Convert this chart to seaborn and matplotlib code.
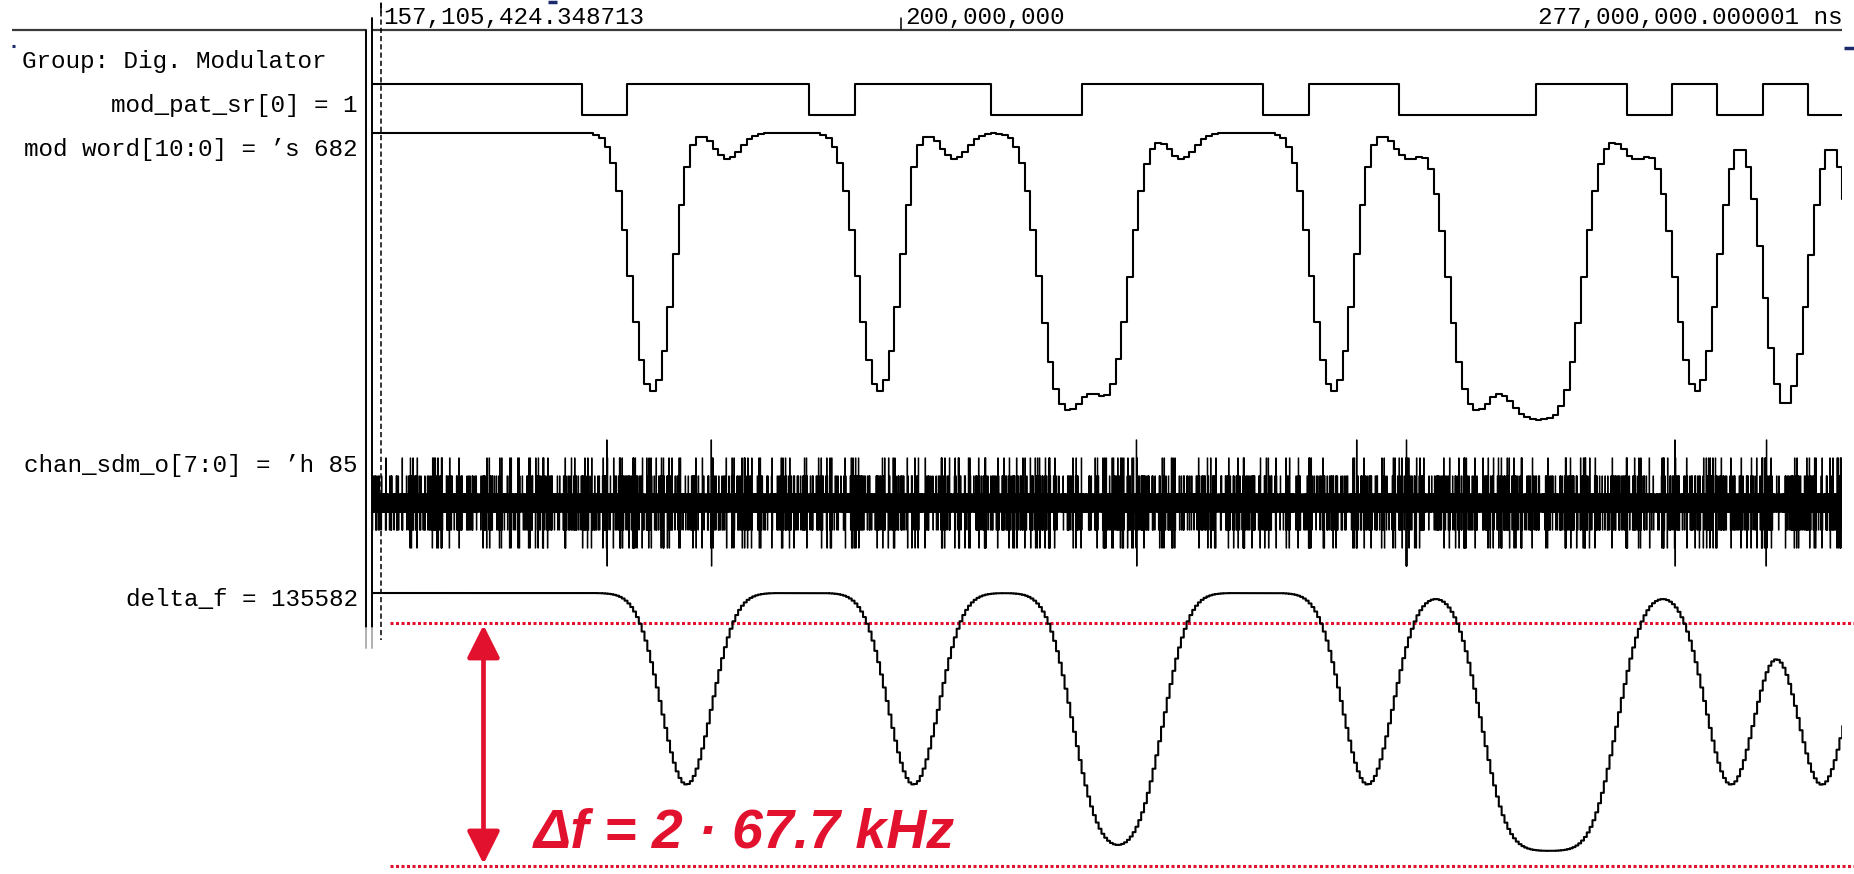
import math
import numpy as np
import matplotlib
matplotlib.use("Agg")
import matplotlib.pyplot as plt
import seaborn as sns
from matplotlib.patches import FancyArrowPatch
from matplotlib.transforms import offset_copy

W, H = 1854, 874

#------ values
# ruler / time window (ns)
view_start_ns = 156.363e6
view_end_ns = 277.62e6
cursor_ns = 157105424.348713
ruler_tick_ns = 200e6
ruler_text = ["157,105,424.348713", "200,000,000", "277,000,000.000001 ns"]

# bit pattern shown in mod_pat_sr[0]
bit_start_ns = 154.96e6
bit_period_ns = 3.746e6
mod_pat_bits = [1, 1, 1, 1, 1, 0, 1, 1, 1, 1, 0, 1, 1, 1, 0, 0, 1, 1, 1, 1,
                0, 1, 1, 0, 0, 0, 1, 1, 0, 1, 0, 1, 0, 0]

group_name = "Group: Dig. Modulator"
signal_names = ["mod_pat_sr[0] = 1", "mod word[10:0] = \u2019s 682",
                "chan_sdm_o[7:0] = \u2019h 85", "delta_f = 135582"]
mod_word_full = 682
delta_f_top = 135582
chan_word = 133
dev_label = "\u0394f = 2 \u00b7 67.7 kHz"

#------ modulator model (gaussian + pre-emphasis ring, PLL output)
mod_sigma = 0.30      # bits
ring_depth = 0.09
ring_pos = 1.15       # bits after the edge
ring_width = 0.28
mod_delay = 1.0       # bits
df_bt = 0.3
df_delay = 1.77       # bits
mod_hold = 1 / 8      # mod word update period, bits
df_hold = 1 / 16
sdm_period_ns = 27e3  # sigma-delta clock, well below one screen pixel
sdm_frac = 0.4637
sdm_gain = 0.02

erf = np.vectorize(math.erf)


def phi(x, s):
    return 0.5 * (1 + erf(x / (s * math.sqrt(2))))


def to_bits(t):
    return (t - bit_start_ns) / bit_period_ns


def edge_sum(u, step):
    b = 2 * np.array(mod_pat_bits) - 1
    out = np.full(len(u), float(b[0]))
    for k in range(1, len(b)):
        if b[k] != b[k - 1]:
            out += (b[k] - b[k - 1]) * step(u - k)
    return out


def mod_step(x):
    x = x - mod_delay
    return phi(x, mod_sigma) - ring_depth * np.exp(-(x - ring_pos) ** 2 / (2 * ring_width ** 2))


df_sigma = math.sqrt(math.log(2)) / (2 * math.pi * df_bt)


def df_step(x):
    return phi(x - df_delay, df_sigma)


def mash111(x):
    a1 = a2 = a3 = 0.0
    c2p = 0
    c3p = c3pp = 0
    out = []
    for v in x:
        a1 += v; c1 = int(a1 >= 1); a1 -= c1
        a2 += a1; c2 = int(a2 >= 1); a2 -= c2
        a3 += a2; c3 = int(a3 >= 1); a3 -= c3
        out.append(c1 + c2 - c2p + c3 - 2 * c3p + c3pp)
        c2p = c2
        c3pp = c3p
        c3p = c3
    return np.array(out)


# mod_pat_sr
t_pat = bit_start_ns + np.arange(len(mod_pat_bits) + 1) * bit_period_ns
y_pat = mod_pat_bits + [mod_pat_bits[-1]]

# mod word (held every 1/8 bit)
u_m = np.arange(to_bits(view_start_ns) - 0.5, to_bits(view_end_ns) + 0.5, mod_hold)
t_m = bit_start_ns + u_m * bit_period_ns
mod_word = np.round(mod_word_full * edge_sum(u_m, mod_step))

# delta_f
u_d = np.arange(to_bits(view_start_ns) - 0.5, to_bits(view_end_ns) + 0.5, df_hold)
t_d = bit_start_ns + u_d * bit_period_ns
delta_f = np.round(delta_f_top / 2 * (1 + edge_sum(u_d, df_step)))

# chan_sdm_o
t_s = np.arange(view_start_ns - 500 * sdm_period_ns, view_end_ns + sdm_period_ns, sdm_period_ns)
sdm_in = sdm_frac + sdm_gain * edge_sum(to_bits(t_s), mod_step)
chan = chan_word + mash111(sdm_in)
keep = t_s >= view_start_ns - sdm_period_ns
t_s, chan = t_s[keep], chan[keep]

#------ figure
sns.set_theme(style="white")
plt.rcParams['font.family'] = ['Liberation Mono', 'DejaVu Sans']

fig = plt.figure(figsize=(W / 100, H / 100), dpi=100)
fig.patch.set_facecolor('white')


def px_axes(x0, y0, x1, y1):
    ax = fig.add_axes([x0 / W, 1 - y1 / H, (x1 - x0) / W, (y1 - y0) / H])
    ax.set_axis_off()
    ax.patch.set_alpha(0)
    return ax


def fit_ylim(ax, y0, y1, va, pa, vb, pb):
    s = (vb - va) / (pb - pa)
    ax.set_ylim(va + (y1 - pa) * s, va + (y0 - pa) * s)


lw_sig = 1.5
red = '#E2122F'
navy = '#1c2a6b'

# chrome overlay in pixel units
ax_c = px_axes(0, 0, W, H)
ax_c.set_xlim(0, W)
ax_c.set_ylim(H, 0)
grey = '#3a3a3a'
ax_c.plot([12, 366], [29.5, 29.5], color=grey, lw=1.6, solid_capstyle='butt')
ax_c.plot([372, 1842], [29.5, 29.5], color=grey, lw=1.6, solid_capstyle='butt')
ax_c.plot([366, 366], [29.5, 628], color='black', lw=1.4)
ax_c.plot([372.5, 372.5], [18, 628], color='black', lw=1.4)
ax_c.plot([366, 366], [628, 648], color='#b0b0b0', lw=1.4)
ax_c.plot([372.5, 372.5], [628, 648], color='#b0b0b0', lw=1.4)
ax_c.plot([12, 15], [45.5, 45.5], color=navy, lw=2.2, solid_capstyle='butt')
ax_c.plot([548, 557], [1.5, 1.5], color=navy, lw=2.5, solid_capstyle='butt')
ax_c.plot([1844, 1854], [47.5, 47.5], color=navy, lw=2.5, solid_capstyle='butt')

lab_kw = dict(fontsize=17.5, color='black', va='baseline')
ax_c.text(22, 68, group_name, ha='left', **lab_kw)
for name, base in zip(signal_names, [112, 156, 472, 606]):
    ax_c.text(358, base, name, ha='right', **lab_kw)

# deviation annotation
for yy in [623, 866]:
    ax_c.plot([390, W], [yy, yy], color=red, lw=2.2, linestyle=(0, (1, 0.8)),
              dash_capstyle='butt')
arr = FancyArrowPatch((483.5, 864), (483.5, 625),
                      arrowstyle='<|-|>,head_length=20,head_width=10',
                      mutation_scale=1, lw=3.4, color=red,
                      shrinkA=0, shrinkB=0)
ax_c.add_patch(arr)
ax_c.text(534, 847, dev_label, fontsize=40, fontweight='bold', fontstyle='italic',
          family='Liberation Sans', color=red, ha='left', va='baseline')

# ruler / cursor, time on x, pixels on y
ax_r = px_axes(372, 0, 1842, H)
ax_r.set_xlim(view_start_ns, view_end_ns)
ax_r.set_ylim(H, 0)
ax_r.plot([cursor_ns, cursor_ns], [3, 640], color='black', lw=1.1, linestyle=(0, (3.4, 2)))
ax_r.plot([cursor_ns, cursor_ns], [3, 12], color='black', lw=1.1)
ax_r.plot([ruler_tick_ns, ruler_tick_ns], [18, 29], color='black', lw=1.1)
ax_r.text(cursor_ns, 24.5, ruler_text[0], ha='left', **lab_kw,
          transform=offset_copy(ax_r.transData, fig, x=2, y=0, units='dots'))
ax_r.text(ruler_tick_ns, 24.5, ruler_text[1], ha='left', **lab_kw,
          transform=offset_copy(ax_r.transData, fig, x=4, y=0, units='dots'))
ax_r.text(view_end_ns, 24.5, ruler_text[2], ha='right', **lab_kw)

# waveforms
ax_pat = px_axes(372, 70, 1842, 128)
sns.lineplot(x=t_pat, y=y_pat, ax=ax_pat, color='black', linewidth=lw_sig,
             drawstyle='steps-post', estimator=None, sort=False)
fit_ylim(ax_pat, 70, 128, 1, 83.5, 0, 114.5)

ax_mw = px_axes(372, 118, 1842, 440)
sns.lineplot(x=t_m, y=mod_word, ax=ax_mw, color='black', linewidth=lw_sig,
             drawstyle='steps-post', estimator=None, sort=False)
fit_ylim(ax_mw, 118, 440, mod_word_full, 133, -mod_word_full, 420)

# sdm band: mean (frac ~0.5) sits in the middle of the band
ax_sdm = px_axes(372, 425, 1842, 585)
sns.lineplot(x=t_s, y=chan, ax=ax_sdm, color='black', linewidth=0.9,
             drawstyle='steps-post', estimator=None, sort=False)
fit_ylim(ax_sdm, 425, 585, chan_word + 0.5, 503, chan_word + 4, 440)

ax_df = px_axes(372, 580, 1842, H)
sns.lineplot(x=t_d, y=delta_f, ax=ax_df, color='black', linewidth=lw_sig,
             drawstyle='steps-post', estimator=None, sort=False)
fit_ylim(ax_df, 580, H, delta_f_top, 593, 0, 851)

for ax in [ax_pat, ax_mw, ax_sdm, ax_df]:
    ax.set_xlim(view_start_ns, view_end_ns)
    ax.set_axis_off()

fig.savefig('out.png', dpi=100, facecolor='white')
